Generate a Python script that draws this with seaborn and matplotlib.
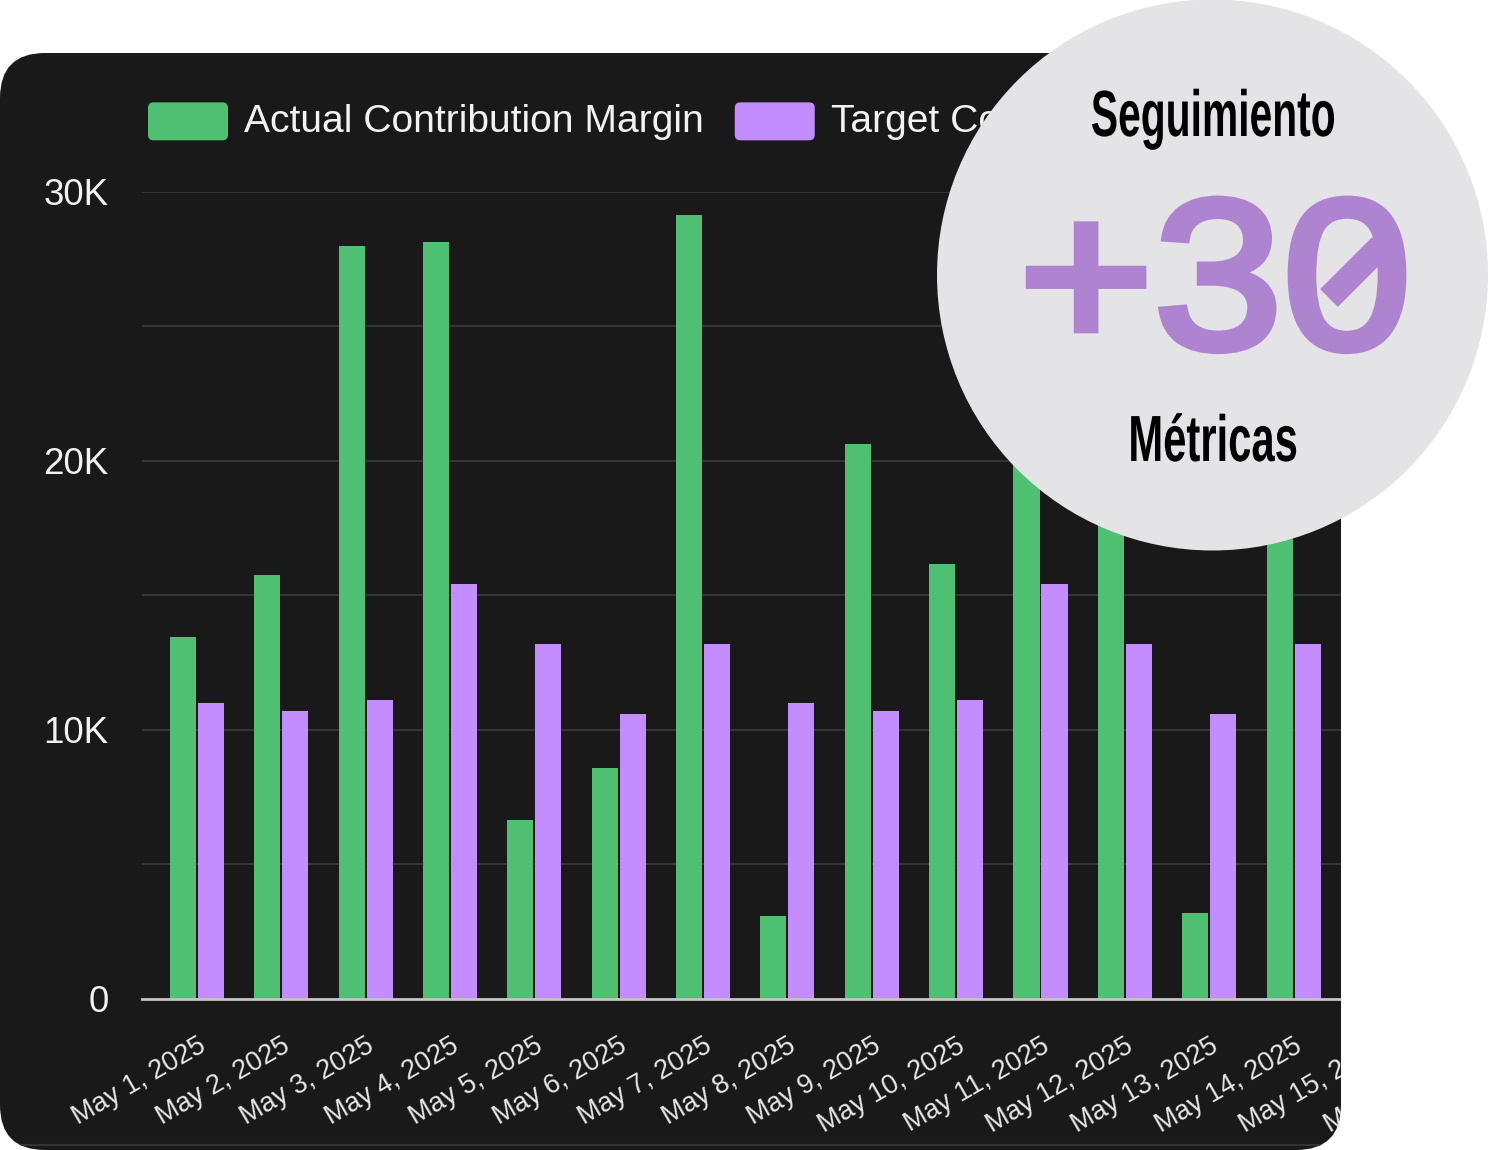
import matplotlib
matplotlib.use("Agg")
import numpy as np
import pandas as pd
import seaborn as sns
import matplotlib.pyplot as plt
from matplotlib.patches import FancyBboxPatch, Circle, Patch
from matplotlib.lines import Line2D
from matplotlib.legend_handler import HandlerPatch
from matplotlib.patheffects import AbstractPathEffect
from matplotlib.transforms import Affine2D, Bbox, TransformedBbox, IdentityTransform

# ---- data (May 11, 12, 14 tops are hidden by the badge: estimates) ----
dates = ["May 1, 2025", "May 2, 2025", "May 3, 2025", "May 4, 2025", "May 5, 2025",
         "May 6, 2025", "May 7, 2025", "May 8, 2025", "May 9, 2025", "May 10, 2025",
         "May 11, 2025", "May 12, 2025", "May 13, 2025", "May 14, 2025", "May 15, 2025", "May 16, 2025"]
actual = [13450, 15750, 27990, 28140, 6640, 8570, 29150, 3070, 20630, 16160,
          20500, 19500, 3180, 19000, np.nan, np.nan]
target = [10990, 10700, 11100, 15420, 13190, 10580, 13190, 10990, 10700, 11100,
          15420, 13190, 10580, 13190, np.nan, np.nan]
series_names = ["Actual Contribution Margin", "Target Contribution Margin"]
y_ticks = [0, 10000, 20000, 30000]
y_ticklabels = ["0", "10K", "20K", "30K"]
minor_grid = [5000, 15000, 25000]
badge_top = "Seguimiento"
badge_value = "+30"
badge_bottom = "Métricas"

W, H = 1488, 1150
GREEN, PURPLE = "#4fc071", "#c38cff"
sns.set_theme(style="dark")
plt.rcParams["font.family"] = ["Liberation Sans", "DejaVu Sans"]

fig = plt.figure(figsize=(W / 100, H / 100), dpi=100, facecolor="white")
px = Affine2D().scale(1, -1).translate(0, H)  # pixel coords, y downward

R = 45
card = FancyBboxPatch((R, 53 + R), 1341 - 2 * R, 1150 - 53 - 2 * R,
                      boxstyle=f"round,pad={R},rounding_size={R}",
                      fc="#191919", ec="none", transform=px, zorder=-5)
fig.add_artist(card)

# footer hairline of the card
foot = Line2D([0, 1341], [1145, 1145], transform=px, color="#333333", lw=1.6, zorder=-4)
fig.add_artist(foot)
foot.set_clip_path(card)

GROUP0, STEP, X0, X1 = 197, 84.35, 142, 1520
Y30, Y0 = 192, 998.5
ax = fig.add_axes([X0 / W, 1 - Y0 / H, (X1 - X0) / W, (Y0 - Y30) / H])
ax.set_facecolor("none")

df = pd.DataFrame({
    "date": dates * 2,
    "value": actual + target,
    "series": [series_names[0]] * len(dates) + [series_names[1]] * len(dates),
})
sns.barplot(data=df, x="date", y="value", hue="series", order=dates, hue_order=series_names,
            palette=[GREEN, PURPLE], width=0.664, gap=0.071, saturation=1, legend=False,
            linewidth=0, ax=ax, zorder=3)

ax.set_xlim((X0 - GROUP0) / STEP, (X1 - GROUP0) / STEP)
ax.set_ylim(0, 30000)
ax.set_xlabel("")
ax.set_ylabel("")
ax.set_yticks(y_ticks, y_ticklabels)
ax.set_yticks(minor_grid, minor=True)
ax.grid(False)
ax.grid(True, axis="y", which="both", color="#3d3d3d", lw=1.1, zorder=1)
for s in ["top", "right", "left"]:
    ax.spines[s].set_visible(False)
ax.spines["bottom"].set_color("#c4c4c4")
ax.spines["bottom"].set_linewidth(2)
ax.spines["bottom"].set_zorder(5)
ax.tick_params(axis="both", which="both", length=0)
ax.tick_params(axis="y", labelsize=26.5, labelcolor="#f2f2f2", pad=24)
ax.tick_params(axis="x", labelsize=19.5, labelcolor="#e8e8e8", pad=25)

clip_rect = TransformedBbox(Bbox([[0, 0], [1341, H]]), IdentityTransform())
for lab in ax.get_xticklabels():
    lab.set_rotation(30)
    lab.set_ha("right")
    lab.set_rotation_mode("anchor")
    lab.set_clip_box(clip_rect)
    lab.set_clip_on(True)
ax.spines["bottom"].set_clip_path(card)
for t in ax.yaxis.get_major_ticks() + ax.yaxis.get_minor_ticks():
    t.gridline.set_clip_path(card)

def rounded_handle(legend, orig_handle, xdescent, ydescent, width, height, fontsize):
    return FancyBboxPatch((-xdescent + 4, -ydescent + 4 - 1.7), width - 8, height - 8,
                          boxstyle="round,pad=4,rounding_size=4", mutation_scale=1)

handles = [Patch(fc=GREEN, ec="none"), Patch(fc=PURPLE, ec="none")]
FS = 28.1
FPX = FS * 100 / 72
leg = ax.legend(handles, series_names, ncol=2, loc="upper left", frameon=False,
                bbox_to_anchor=(148 / W, 1 - 100 / H), bbox_transform=fig.transFigure,
                fontsize=FS, labelcolor="#f2f2f2", borderpad=0, borderaxespad=0,
                handlelength=80 / FPX, handleheight=1.12,
                handletextpad=16 / FPX, columnspacing=31 / FPX,
                handler_map={Patch: HandlerPatch(patch_func=rounded_handle)})


class Squeeze(AbstractPathEffect):
    """Scale the glyph outlines of a text about a pixel point (the text stays text)."""
    def __init__(self, sx, sy, x, y, stroke=0):
        super().__init__()
        self.m = Affine2D().translate(-x, -(H - y)).scale(sx, sy).translate(x, H - y)
        self.stroke = stroke

    def draw_path(self, renderer, gc, tpath, affine, rgbFace=None):
        if self.stroke:
            gc0 = renderer.new_gc()
            gc0.copy_properties(gc)
            gc0.set_linewidth(self.stroke)
            gc0.set_foreground(rgbFace)
            gc0.set_joinstyle("miter")
            renderer.draw_path(gc0, tpath, affine + self.m, rgbFace)
            gc0.restore()
        else:
            renderer.draw_path(gc, tpath, affine + self.m, rgbFace)


# badge drawn over everything
fig.add_artist(Circle((1212.5, 275), 275.5, fc="#e4e3e5", ec="none", transform=px, zorder=10))

def ptext(x, y, s, sx, sy=1.0, stroke=0, **kw):
    fig.text(x / W, 1 - y / H, s, ha="center", va="baseline", zorder=11,
             path_effects=[Squeeze(sx, sy, x, y, stroke)], **kw)

ptext(1213, 136, badge_top, 0.625, family="Liberation Sans", fontsize=47, fontweight="bold", color="#000000")
ptext(1213, 461, badge_bottom, 0.64, family="Liberation Sans", fontsize=47, fontweight="bold", color="#000000")
ptext(1215, 348, badge_value, 1.09, stroke=5.8, family="Liberation Sans", fontsize=153, color="#ae84d0")
slash = Line2D([1329, 1381], [298, 246], transform=px, color="#ae84d0", lw=18,
               solid_capstyle="butt", zorder=12)
fig.add_artist(slash)

fig.savefig("out.png", dpi=100, facecolor="white")
